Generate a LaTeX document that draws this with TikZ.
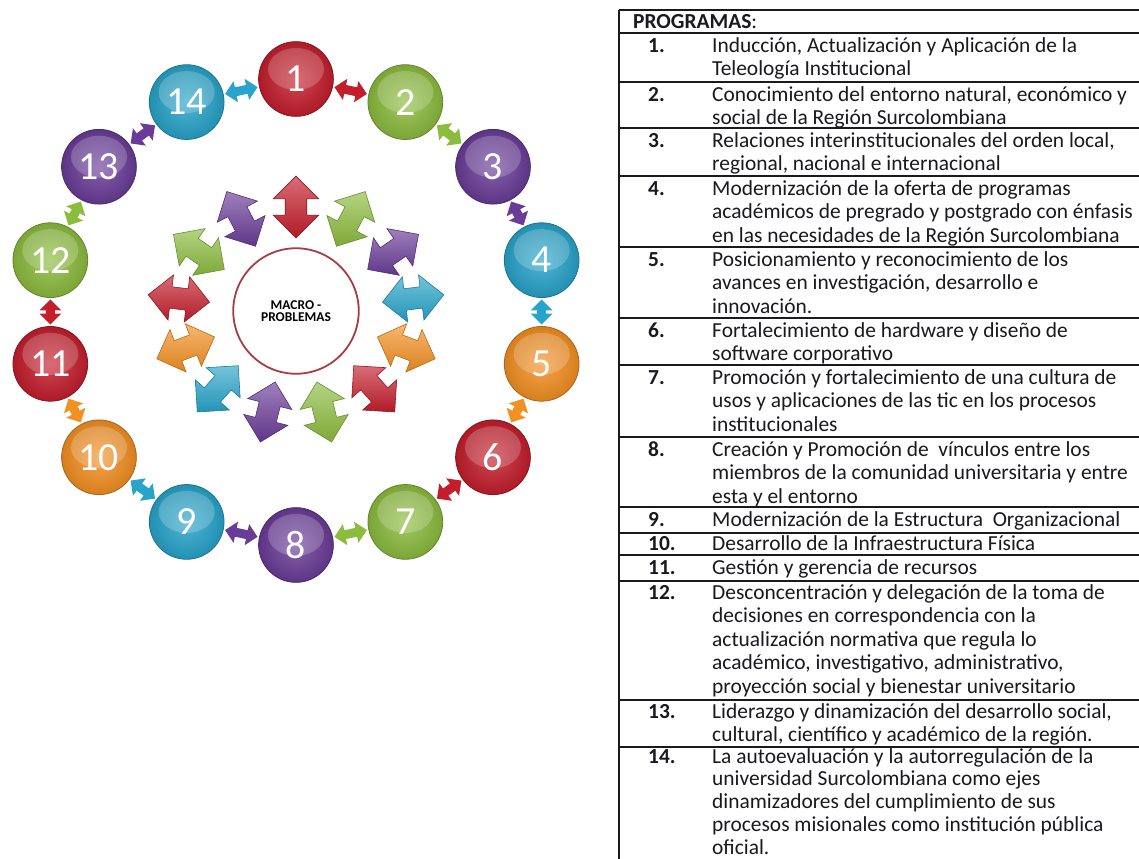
\documentclass[tikz,border=0pt]{standalone}
\usepackage{fontspec}
\setmainfont{Carlito}
\usetikzlibrary{shapes.arrows,arrows.meta,calc}

\definecolor{mred}{RGB}{196,30,44}
\definecolor{mgreen}{RGB}{140,188,62}
\definecolor{mpurple}{RGB}{106,60,152}
\definecolor{mblue}{RGB}{40,164,202}
\definecolor{morange}{RGB}{243,144,34}
\definecolor{mring}{RGB}{165,60,70}
\definecolor{ink}{RGB}{25,25,30}

\tikzset{
  ball/.style={circle, minimum size=75, inner sep=0, shading=radial,
    inner color=#1!82!white, outer color=#1!88!black, draw=#1!70!black, line width=0.8,
    text=white, font=\fontsize{40}{40}\selectfont,
    path picture={\fill[white, opacity=0.2]
      ($(path picture bounding box.center)+(0,-10)$) ellipse [x radius=28, y radius=21];}},
  link/.style={draw=#1, line width=9,
    {Triangle[width=21, length=11]}-{Triangle[width=21, length=11]},
    shorten <=1.5, shorten >=1.5},
  bigarrow/.style={double arrow, shading=axis, top color=#1!65!white, bottom color=#1!90!black,
    draw=#1!75!black, line width=0.6, inner xsep=0, inner ysep=10.5,
    double arrow head extend=12, minimum height=62, minimum width=45},
  hub/.style={circle, draw=mring, line width=1.8, fill=white, minimum size=126, inner sep=0,
    align=center, font=\bfseries\fontsize{13.5}{12.5}\selectfont, text=black},
  rule/.style={draw=ink, line width=2},
  numtxt/.style={anchor=base west, inner sep=0, text=ink, font=\bfseries\fontsize{21.5}{23.5}\selectfont},
  rowtxt/.style={anchor=base west, inner sep=0, text=ink, font=\fontsize{21.5}{23.5}\selectfont},
}

% one programme row: name, baseline, number, lines
\newcommand\progrow[4]{%
  \node[numtxt] (n#1) at (648,#2) {#3};
  \node[rowtxt] (t#1) at (712,#2) {\parbox[t]{520bp}{\raggedright #4}};
}

\begin{document}
\begin{tikzpicture}[x=1bp, y=-1bp]
\useasboundingbox (0,0) rectangle (1139,859);
\fill[white] (0,0) rectangle (1139,859);

% ---- outer ring of programme balls ----
\foreach \i/\c in {1/mred,2/mgreen,3/mpurple,4/mblue,5/morange,6/mred,7/mgreen,
                   8/mpurple,9/mblue,10/morange,11/mred,12/mgreen,13/mpurple,14/mblue}{
  \pgfmathsetmacro\ang{90-(\i-1)*360/14}
  \node[ball=\c] (b\i) at ({296+252*cos(\ang)},{312-233*sin(\ang)}) {\i};
}

% ---- small two-way links between neighbouring balls ----
\foreach \i/\j/\c in {1/2/mred,2/3/mgreen,3/4/mpurple,4/5/mblue,5/6/morange,6/7/mred,
                      7/8/mgreen,8/9/mpurple,9/10/mblue,10/11/morange,11/12/mred,
                      12/13/mgreen,13/14/mpurple,14/1/mblue}{
  \draw[link=\c] (b\i) -- (b\j);
}

% ---- central circle ----
\node[hub] (mp) at (296,311) {MACRO -\\PROBLEMAS};

% ---- inner ring of radial two-way arrows ----
\foreach \k/\c in {0/mred,1/mgreen,2/mpurple,3/mblue,4/morange,5/mred,6/mgreen,
                   7/mpurple,8/mblue,9/morange,10/mred,11/mgreen,12/mpurple}{
  \pgfmathsetmacro\ang{90-\k*360/13}
  \node[bigarrow=\c, rotate=\ang] (a\k) at ({296+118*cos(\ang)},{311-104*sin(\ang)}) {};
}

% ---- programme table ----
\draw[rule] (619,10) -- (1139,10);
\draw[rule] (619,10) -- (619,859);
\foreach \y in {33,82,128,176,247,318,365,437,507,533,555,581,700,747}{
  \draw[rule] (619,\y) -- (1139,\y);
}
\node[anchor=base west, inner sep=0, text=ink, font=\fontsize{21.5}{23.5}\selectfont]
  (head) at (633,28) {\textbf{PROGRAMAS}:};

\progrow{1}{52.5}{1.}{Inducción, Actualización y Aplicación de la\\Teleología Institucional}
\progrow{2}{101.5}{2.}{Conocimiento del entorno natural, económico y\\social de la Región Surcolombiana}
\progrow{3}{147.5}{3.}{Relaciones interinstitucionales del orden local,\\regional, nacional e internacional}
\progrow{4}{195.5}{4.}{Modernización de la oferta de programas\\académicos de pregrado y postgrado con énfasis\\en las necesidades de la Región Surcolombiana}
\progrow{5}{266.5}{5.}{Posicionamiento y reconocimiento de los\\avances en investigación, desarrollo e\\innovación.}
\progrow{6}{337.5}{6.}{Fortalecimiento de hardware y diseño de\\software corporativo}
\progrow{7}{384.5}{7.}{Promoción y fortalecimiento de una cultura de\\usos y aplicaciones de las tic en los procesos\\institucionales}
\progrow{8}{456.5}{8.}{Creación y Promoción de\ \ vínculos entre los\\miembros de la comunidad universitaria y entre\\esta y el entorno}
\progrow{9}{526.5}{9.}{Modernización de la Estructura\ \ Organizacional}
\progrow{10}{550.5}{10.}{Desarrollo de la Infraestructura Física}
\progrow{11}{574.5}{11.}{Gestión y gerencia de recursos}
\progrow{12}{599.5}{12.}{Desconcentración y delegación de la toma de\\decisiones en correspondencia con la\\actualización normativa que regula lo\\académico, investigativo, administrativo,\\proyección social y bienestar universitario}
\progrow{13}{718.5}{13.}{Liderazgo y dinamización del desarrollo social,\\cultural, científico y académico de la región.}
\progrow{14}{763}{14.}{\baselineskip=22.8bp La autoevaluación y la autorregulación de la\\universidad Surcolombiana como ejes\\dinamizadores del cumplimiento de sus\\procesos misionales como institución pública\\oficial.}
\end{tikzpicture}
\end{document}
